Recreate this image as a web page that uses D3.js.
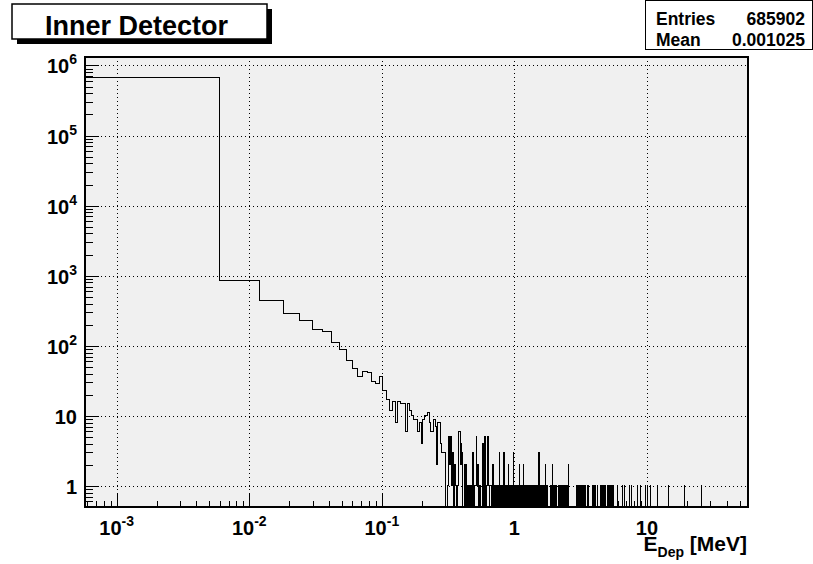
<!DOCTYPE html>
<html>
<head>
<meta charset="utf-8">
<script src="https://cdn.jsdelivr.net/npm/d3@7"></script>
<style>
  body { margin: 0; background: #fff; }
  text { font-family: "Liberation Sans", Arial, Helvetica, sans-serif; font-weight: bold; fill: #000; }
</style>
</head>
<body>
<svg id="chart" width="813" height="564"></svg>
<script>
// ── histogram: 10000 bins of 0.006 MeV (0 – 60 MeV) ──
const BIN_W = 0.006;
const N_BINS = 10000;

// contents of the first bins (index 0 = 0 – 0.006 MeV)
const lowCounts = [
  684000, 850, 440, 285, 230, 168, 160, 112, 87, 61,
  47, 37, 43, 41, 31, 29, 36, 23, 17, 12,
  16, 8, 16, 15, 15, 6, 15, 12, 10, 9,
  9, 6, 8, 4, 9, 10, 10, 11, 8, 6,
  6, 9, 7, 2, 8, 8, 4, 3, 3, 3,
  0, 0
];

// isolated bins above 0.3 MeV with more than one entry: [E (MeV), count]
const multiHits = [
  [0.315, 1], [0.321, 5], [0.327, 2], [0.333, 5], [0.339, 1], [0.345, 3],
  [0.357, 2], [0.363, 1], [0.375, 1], [0.381, 6], [0.387, 6], [0.393, 2],
  [0.399, 4], [0.405, 3], [0.423, 2], [0.435, 2], [0.441, 1], [0.459, 1],
  [0.489, 3], [0.507, 1], [0.519, 5], [0.531, 2], [0.579, 4], [0.603, 5],
  [0.633, 5], [0.687, 2], [0.771, 3], [0.837, 3], [0.903, 2], [0.981, 3],
  [1.089, 2], [1.167, 2], [1.533, 3], [1.725, 2], [1.941, 2], [2.577, 2]
];

// bins holding a single entry (E in MeV)
const singleHits = [
  0.450, 0.471, 0.499, 0.512, 0.526, 0.540, 0.554, 0.589, 0.620, 0.628,
  0.637, 0.645, 0.654, 0.662, 0.671, 0.680, 0.698, 0.707, 0.716, 0.725,
  0.735, 0.745, 0.761, 0.777, 0.791, 0.805, 0.815, 0.826, 0.848, 0.859,
  0.870, 0.881, 0.893, 0.905, 0.917, 0.929, 0.941, 0.953, 0.966, 0.978,
  0.991, 1.004, 1.017, 1.030, 1.044, 1.058, 1.072, 1.086, 1.100, 1.114,
  1.129, 1.144, 1.159, 1.174, 1.190, 1.205, 1.221, 1.237, 1.253, 1.269,
  1.286, 1.303, 1.320, 1.337, 1.355, 1.373, 1.391, 1.409, 1.428, 1.446,
  1.465, 1.484, 1.504, 1.523, 1.543, 1.570, 1.598, 1.619, 1.640, 1.662,
  1.684, 1.706, 1.728, 1.751, 1.774, 1.868, 1.893, 1.918, 1.968, 1.994,
  2.020, 2.047, 2.074, 2.166, 2.194, 2.223, 2.252, 2.282, 2.312, 2.342,
  2.373, 2.404, 2.435, 2.467, 2.510, 2.554, 2.935, 2.973, 3.012, 3.052,
  3.092, 3.132, 3.173, 3.215, 3.257, 3.300, 3.343, 3.387, 3.431, 3.552,
  3.646, 3.875, 3.920, 3.977, 4.030, 4.083, 4.264, 4.492, 4.550, 4.610,
  4.670, 4.732, 4.790, 4.857, 5.028, 5.090, 5.161, 5.230, 5.297, 5.370,
  5.437, 5.510, 5.580, 5.951, 6.525, 6.755, 7.367, 7.628, 8.422, 8.917,
  9.811, 10.07, 10.70, 11.92, 14.58, 19.31, 25.72
];

const xMajor  = [1e-3, 1e-2, 1e-1, 1, 10];
const xLabels = [["10", "-3"], ["10", "-2"], ["10", "-1"], ["1", ""], ["10", ""]];
const yMajor  = [1, 10, 1e2, 1e3, 1e4, 1e5, 1e6];
const yLabels = [["1", ""], ["10", ""], ["10", "2"], ["10", "3"], ["10", "4"], ["10", "5"], ["10", "6"]];

const titleText = "Inner Detector";
const statRows = [["Entries", "685902"], ["Mean", "0.001025"]];

// ── layout ──
const F = { l: 85, r: 748, t: 57, b: 507 };
const svg = d3.select("#chart");

const x = d3.scaleLog().domain([5.77e-4, 57.8]).range([F.l, F.r]);
const y = d3.scaleLog().domain([0.5, 1.32e6]).range([F.b, F.t]);

// minor tick positions (2..9 per decade) inside the domain
function minors(scale, lo, hi) {
  const out = [];
  const [d0, d1] = scale.domain();
  for (let p = lo; p <= hi; p++) {
    for (let m = 2; m <= 9; m++) {
      const v = m * Math.pow(10, p);
      if (v > d0 && v < d1) out.push(v);
    }
  }
  return out;
}

// frame background
svg.append("rect").attr("x", F.l).attr("y", F.t)
  .attr("width", F.r - F.l).attr("height", F.b - F.t)
  .attr("fill", "#f0f0f0");

// dotted grid
const grid = svg.append("g").attr("stroke", "#000").attr("stroke-width", 1)
  .attr("stroke-dasharray", "1,3").attr("shape-rendering", "crispEdges");
xMajor.forEach(v => grid.append("line")
  .attr("x1", Math.round(x(v)) + 0.5).attr("x2", Math.round(x(v)) + 0.5)
  .attr("y1", F.t).attr("y2", F.b));
yMajor.forEach(v => grid.append("line")
  .attr("x1", F.l).attr("x2", F.r)
  .attr("y1", Math.round(y(v)) + 0.5).attr("y2", Math.round(y(v)) + 0.5));

// histogram contents
const counts = new Array(N_BINS).fill(0);
lowCounts.forEach((c, i) => counts[i] = c);
multiHits.forEach(([e, n]) => counts[Math.floor(e / BIN_W)] = n);
singleHits.forEach(e => {
  const b = Math.floor(e / BIN_W);
  if (!counts[b]) counts[b] = 1;
});

svg.append("clipPath").attr("id", "frameClip")
  .append("rect").attr("x", F.l).attr("y", F.t)
  .attr("width", F.r - F.l).attr("height", F.b - F.t);

const yv = c => c > 0 ? y(c) : F.b + 5;
let d = `M${F.l - 5},${yv(counts[0])}`;
let i = 0;
while (i < N_BINS) {
  let j = i;
  while (j + 1 < N_BINS && counts[j + 1] === counts[i]) j++;
  d += `H${x((j + 1) * BIN_W)}`;
  if (j + 1 < N_BINS) d += `V${yv(counts[j + 1])}`;
  i = j + 1;
}
svg.append("path").attr("d", d)
  .attr("clip-path", "url(#frameClip)")
  .attr("fill", "none").attr("stroke", "#000").attr("stroke-width", 1)
  .attr("shape-rendering", "crispEdges");

// axes (ticks pointing into the frame)
function styleAxis(sel) {
  sel.select(".domain").remove();
  sel.selectAll("line").attr("stroke", "#000").attr("shape-rendering", "crispEdges");
}
svg.append("g").attr("transform", `translate(0,${F.b})`)
  .call(d3.axisBottom(x).tickValues(xMajor).tickSizeInner(-14).tickSizeOuter(0).tickFormat(""))
  .call(styleAxis);
svg.append("g").attr("transform", `translate(0,${F.b})`)
  .call(d3.axisBottom(x).tickValues(minors(x, -4, 1)).tickSizeInner(-6).tickSizeOuter(0).tickFormat(""))
  .call(styleAxis);
svg.append("g").attr("transform", `translate(${F.l},0)`)
  .call(d3.axisLeft(y).tickValues(yMajor).tickSizeInner(-14).tickSizeOuter(0).tickFormat(""))
  .call(styleAxis);
svg.append("g").attr("transform", `translate(${F.l},0)`)
  .call(d3.axisLeft(y).tickValues(minors(y, -1, 6)).tickSizeInner(-8).tickSizeOuter(0).tickFormat(""))
  .call(styleAxis);

// frame outline
svg.append("rect").attr("x", F.l).attr("y", F.t)
  .attr("width", F.r - F.l).attr("height", F.b - F.t)
  .attr("fill", "none").attr("stroke", "#000").attr("stroke-width", 2);

// tick labels
xMajor.forEach((v, k) => {
  const t = svg.append("text").attr("x", x(v)).attr("y", 535)
    .attr("text-anchor", "middle").attr("font-size", 20);
  t.append("tspan").text(xLabels[k][0]);
  if (xLabels[k][1]) t.append("tspan").attr("font-size", 14).attr("dy", -9).text(xLabels[k][1]);
});
yMajor.forEach((v, k) => {
  const t = svg.append("text").attr("x", 77).attr("y", y(v) + 8)
    .attr("text-anchor", "end").attr("font-size", 20);
  t.append("tspan").text(yLabels[k][0]);
  if (yLabels[k][1]) t.append("tspan").attr("font-size", 14).attr("dy", -9).text(yLabels[k][1]);
});

// axis title
const xt = svg.append("text").attr("x", 747).attr("y", 551)
  .attr("text-anchor", "end").attr("font-size", 21);
xt.append("tspan").text("E");
xt.append("tspan").attr("font-size", 14).attr("dy", 6).text("Dep");
xt.append("tspan").attr("dy", -6).text(" [MeV]");

// title pave with shadow
const TB = { x: 12, y: 4, w: 255, h: 35, s: 5 };
svg.append("rect").attr("x", TB.x + TB.s).attr("y", TB.y + TB.s)
  .attr("width", TB.w).attr("height", TB.h).attr("fill", "#000");
svg.append("rect").attr("x", TB.x).attr("y", TB.y)
  .attr("width", TB.w).attr("height", TB.h)
  .attr("fill", "#fff").attr("stroke", "#000").attr("stroke-width", 1.5);
svg.append("text").attr("x", TB.x + TB.w / 2 - 3).attr("y", 35)
  .attr("text-anchor", "middle").attr("font-size", 27).text(titleText);

// stats box
svg.append("rect").attr("x", 645.5).attr("y", 0.5).attr("width", 167).attr("height", 49)
  .attr("fill", "#fff").attr("stroke", "#000").attr("stroke-width", 1);
statRows.forEach((r, k) => {
  svg.append("text").attr("x", 656).attr("y", 25 + k * 21).attr("font-size", 17.5).text(r[0]);
  svg.append("text").attr("x", 805).attr("y", 25 + k * 21)
    .attr("text-anchor", "end").attr("font-size", 17.5).text(r[1]);
});
</script>
</body>
</html>
